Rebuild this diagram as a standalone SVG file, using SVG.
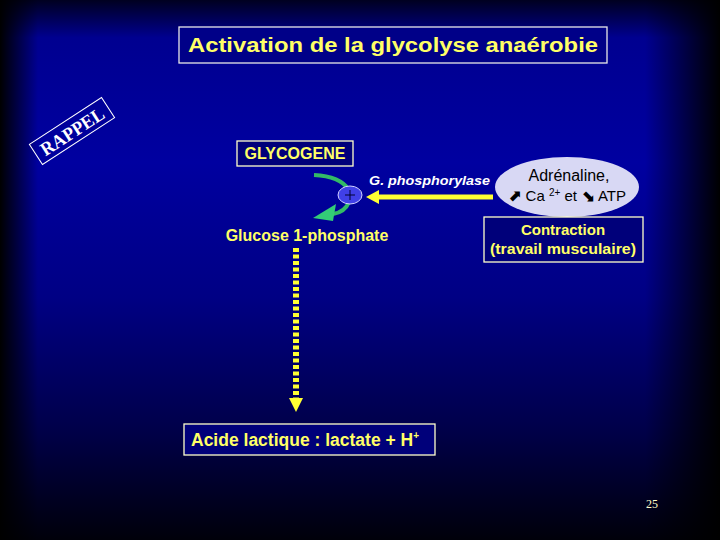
<svg xmlns="http://www.w3.org/2000/svg" width="720" height="540" viewBox="0 0 720 540">
<defs>
<linearGradient id="bgv" x1="0" y1="0" x2="0" y2="1">
<stop offset="0" stop-color="#000020"/>
<stop offset="0.07" stop-color="#000090"/>
<stop offset="0.3" stop-color="#0000a0"/>
<stop offset="0.55" stop-color="#000084"/>
<stop offset="0.8" stop-color="#000048"/>
<stop offset="1" stop-color="#00000a"/>
</linearGradient>
<linearGradient id="edgeL" x1="0" y1="0" x2="1" y2="0">
<stop offset="0" stop-color="#000" stop-opacity="1"/>
<stop offset="1" stop-color="#000" stop-opacity="0"/>
</linearGradient>
<linearGradient id="edgeR" x1="1" y1="0" x2="0" y2="0">
<stop offset="0" stop-color="#000" stop-opacity="1"/>
<stop offset="1" stop-color="#000" stop-opacity="0"/>
</linearGradient>
<style>
.box{fill:#00007a;stroke:#ffffcc;stroke-width:1.3}
.ylw{fill:#ffff66;font-family:"Liberation Sans",Arial,sans-serif;font-weight:bold}
.blk{fill:#000;font-family:"Liberation Sans",Arial,sans-serif}
.arr{font-family:"DejaVu Sans",sans-serif;font-weight:bold;font-size:16px}
</style>
</defs>
<rect width="720" height="540" fill="url(#bgv)"/>
<rect x="0" y="0" width="38" height="540" fill="url(#edgeL)"/>
<rect x="645" y="0" width="75" height="540" fill="url(#edgeR)"/>

<g id="title">
<rect x="179" y="27" width="428" height="36" fill="#000088" stroke="#e8e8e8" stroke-width="1.3"/>
<text x="393" y="52" text-anchor="middle" class="ylw" font-size="20" textLength="410" lengthAdjust="spacingAndGlyphs">Activation de la glycolyse anaérobie</text>
</g>

<g id="rappel" transform="translate(72,131) rotate(-33)">
<rect x="-43" y="-12" width="86" height="24" fill="none" stroke="#ffffff" stroke-width="1"/>
<text x="0" y="7" text-anchor="middle" fill="#ffffff" font-family="'Liberation Serif','Times New Roman',serif" font-size="19" font-weight="bold" textLength="72" lengthAdjust="spacingAndGlyphs">RAPPEL</text>
</g>

<g id="glycogene">
<rect x="237" y="141" width="116" height="25" class="box"/>
<text x="295" y="159" text-anchor="middle" class="ylw" font-size="16">GLYCOGENE</text>
</g>

<g id="glucose1p">
<text x="307" y="241" text-anchor="middle" class="ylw" font-size="16">Glucose 1-phosphate</text>
</g>

<g id="adrenaline">
<ellipse cx="567" cy="187" rx="72" ry="30" fill="#d8d8f4"/>
<text x="569" y="181" text-anchor="middle" class="blk" font-size="16">Adrénaline,</text>
<text x="567" y="201" text-anchor="middle" class="blk" font-size="15"><tspan class="arr">⬈</tspan> Ca <tspan font-size="10" dy="-5">2+</tspan><tspan dy="5"> et </tspan><tspan class="arr">⬊</tspan> ATP</text>
</g>

<g id="contraction">
<rect x="484" y="217" width="159" height="45" class="box"/>
<text x="563" y="235" text-anchor="middle" class="ylw" font-size="15">Contraction</text>
<text x="563" y="254" text-anchor="middle" class="ylw" font-size="15" textLength="146" lengthAdjust="spacingAndGlyphs">(travail musculaire)</text>
</g>

<g id="acide">
<rect x="184" y="424" width="251" height="31" class="box"/>
<text x="191" y="446" class="ylw" font-size="17.5">Acide lactique : lactate + H<tspan font-size="10" dy="-7">+</tspan></text>
</g>

<g id="phosphorylase">
<text x="369" y="185" fill="#ffffff" font-family="'Liberation Sans',Arial,sans-serif" font-size="13.5" font-style="italic" font-weight="bold" textLength="121" lengthAdjust="spacingAndGlyphs">G. phosphorylase</text>
</g>

<g id="connectors">
<path d="M314,175 Q340,176 349,190" fill="none" stroke="#33bb66" stroke-width="4"/>
<path d="M349,202 Q345,212 333,214" fill="none" stroke="#33bb66" stroke-width="4"/>
<path d="M313,218 L336,204 L333,221 z" fill="#33cc77"/>
<ellipse cx="350" cy="195" rx="12" ry="9" fill="#4040e8" stroke="#d0d0ff" stroke-width="1"/>
<path d="M345,195 h10 M350,190 v10" stroke="#000033" stroke-width="1"/>
<line x1="493" y1="197" x2="376" y2="197" stroke="#ffff33" stroke-width="5"/>
<path d="M366,197 L379,190 L379,204 z" fill="#ffff33"/>
<line x1="296" y1="248" x2="296" y2="398" stroke="#ffff33" stroke-width="6" stroke-dasharray="4,2.5"/>
<path d="M289,398 L303,398 L296,412 z" fill="#ffff33"/>
</g>

<g id="pagenum">
<text x="652" y="508" text-anchor="middle" fill="#ffffcc" font-family="'Liberation Serif','Times New Roman',serif" font-size="12">25</text>
</g>
</svg>
